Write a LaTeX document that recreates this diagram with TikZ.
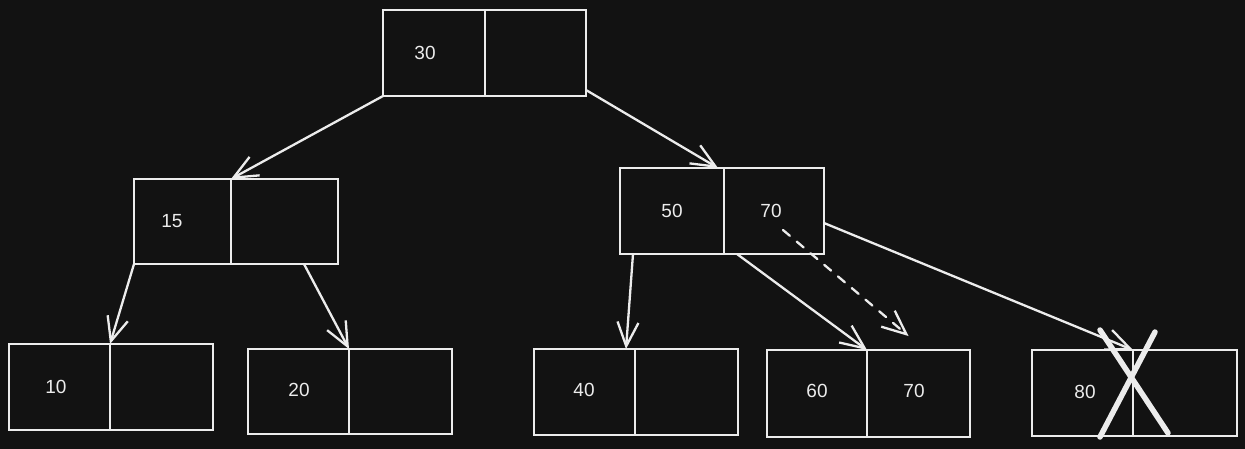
\documentclass[tikz,border=0pt]{standalone}
\usepackage{fontspec}
\setmainfont{Liberation Sans}
\usetikzlibrary{arrows.meta}
\definecolor{bg}{HTML}{121212}
\definecolor{ink}{HTML}{ECECEC}
% two-cell B-tree node: name, left x, divider x, right x, top y, bottom y
\newcommand\btnode[6]{%
  \pgfmathsetmacro\btWl{#3-#2}%
  \pgfmathsetmacro\btWr{#4-#3}%
  \pgfmathsetmacro\btH{#6-#5}%
  \node[cell, minimum width=\btWl pt, minimum height=\btH pt, anchor=north west] (#1l) at (#2,#5) {};
  \node[cell, minimum width=\btWr pt, minimum height=\btH pt, anchor=north west] (#1r) at (#3,#5) {};
}
\begin{document}
\begin{tikzpicture}[x=1pt, y=-1pt,
  cell/.style={draw=ink, line width=2.3pt, inner sep=0pt, outer sep=0pt},
  num/.style={text=ink, font=\fontsize{19}{21}\selectfont, inner sep=0pt},
  link/.style={draw=ink, line width=2.3pt, line cap=round,
    -{Straight Barb[length=24pt, width=21pt, line width=2.3pt]}},
  cross/.style={draw=ink, line width=5.5pt, line cap=round}]
  \useasboundingbox (0,0) rectangle (1245,448);
  \fill[bg] (-5,-5) rectangle (1250,453);

  % tree nodes
  \btnode{root}{383}{485}{586}{10}{96}
  \btnode{a}{134}{231}{338}{179}{264}
  \btnode{b}{620}{724}{824}{168}{254}
  \btnode{c}{9}{110}{213}{344}{430}
  \btnode{d}{248}{349}{452}{349}{434}
  \btnode{e}{534}{635}{738}{349}{435}
  \btnode{f}{767}{867}{970}{350}{437}
  \btnode{g}{1032}{1133}{1237}{350}{436}

  % keys
  \node[num] (k30) at (425,53) {30};
  \node[num] (k15) at (172,221) {15};
  \node[num] (k50) at (672,211) {50};
  \node[num] (k70) at (771,211) {70};
  \node[num] (k10) at (56,387) {10};
  \node[num] (k20) at (299,390) {20};
  \node[num] (k40) at (584,390) {40};
  \node[num] (k60) at (817,391) {60};
  \node[num] (k70b) at (914,391) {70};
  \node[num] (k80) at (1085,392) {80};

  % child pointers
  \draw[link] (rootl.south west) -- (al.north east);
  \draw[link] ([yshift=6pt]rootr.south east) -- ([xshift=-6pt]bl.north east);
  \draw[link] (al.south west) -- (cl.north east);
  \draw[link] ([xshift=-34pt]ar.south east) -- (dl.north east);
  \draw[link] ([xshift=13pt]bl.south west) -- ([xshift=-9pt]el.north east);
  \draw[link] ([xshift=13pt]br.south west) -- (fl.north east);
  \draw[link] ([yshift=-12pt]br.east) -- (gl.north east);

  % moved key
  \coordinate (mvA) at ([xshift=-41pt, yshift=24pt]br.south east);
  \coordinate (mvB) at ([xshift=-10pt, yshift=14pt]fr.north);
  \draw[link, dashed, dash pattern=on 9pt off 9pt] (mvA) -- (mvB);

  % deleted key
  \draw[cross] (1100,437) -- (1155,332);
  \draw[cross] (1100,330) -- (1168,433);
\end{tikzpicture}
\end{document}
